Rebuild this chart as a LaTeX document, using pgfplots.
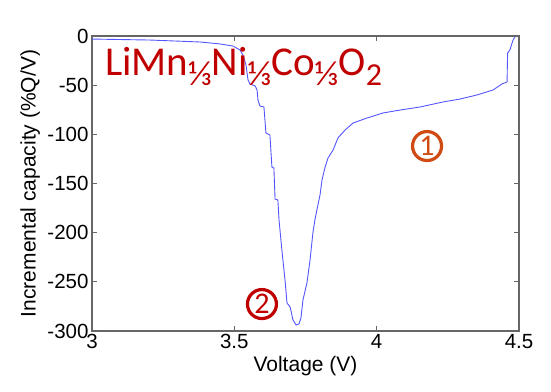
\documentclass[border=0pt]{standalone}
\usepackage{pgfplots}
\pgfplotsset{compat=1.18}
\usepackage{fontspec}
\setmainfont{Liberation Sans}
\newfontfamily\calib{Carlito}
\definecolor{curveblue}{RGB}{85,85,255}
\definecolor{titlered}{RGB}{192,0,0}
\definecolor{oneorange}{RGB}{208,74,20}
\begin{document}
\begin{tikzpicture}
\begin{axis}[
  scale only axis,
  width=427pt, height=295pt,
  xmin=3, xmax=4.5, ymin=-300, ymax=0,
  xtick={3,3.5,4,4.5},
  ytick={-300,-250,-200,-150,-100,-50,0},
  xticklabels={3,3.5,4,4.5},
  yticklabels={-300,-250,-200,-150,-100,-50,0},
  tick align=inside,
  major tick length=5pt,
  axis line style={black!60, line width=1.1pt},
  every tick/.style={black!60, line width=0.8pt},
  tick label style={font=\fontsize{20.5}{20.5}\selectfont, black},
  label style={font=\fontsize{21}{21}\selectfont, black},
  xlabel={Voltage (V)},
  ylabel={Incremental capacity (\%Q/V)},
  xlabel style={at={(axis description cs:0.5,-0.119)}, anchor=center},
  ylabel style={at={(axis description cs:-0.145,0.5)}, anchor=center},
  clip=true,
]
\addplot[curveblue, line width=0.9pt] coordinates {
(3.000,-3.1) (3.204,-4.1) (3.380,-6.1) (3.450,-8.1) (3.495,-10.2)
(3.520,-14.2) (3.530,-19.3) (3.541,-29.5) (3.548,-44.7) (3.555,-48.8)
(3.573,-50.8) (3.580,-54.9) (3.583,-65.1) (3.590,-71.2) (3.604,-72.2)
(3.611,-98.6) (3.625,-100.7) (3.632,-133.2) (3.639,-134.2) (3.643,-165.8)
(3.653,-166.8) (3.657,-187.1) (3.667,-217.6) (3.678,-248.1) (3.685,-271.5)
(3.696,-275.6) (3.706,-288.8) (3.717,-293.9) (3.727,-292.9) (3.734,-286.8)
(3.741,-268.5) (3.755,-251.2) (3.766,-227.8) (3.776,-200.3) (3.783,-187.1)
(3.790,-177.0) (3.801,-161.7) (3.808,-146.4) (3.818,-134.2) (3.829,-124.1)
(3.847,-115.9) (3.864,-103.7) (3.889,-95.6) (3.917,-88.5) (3.966,-83.4)
(4.022,-78.3) (4.082,-75.3) (4.152,-72.2) (4.233,-67.1) (4.293,-64.1)
(4.352,-60.0) (4.409,-54.9) (4.440,-48.8) (4.458,-46.8) (4.460,-17.3)
(4.468,-14.2) (4.479,-4.1) (4.486,-1.0)
};
\node[anchor=base west, inner sep=0pt, text=titlered, font=\calib\fontsize{41}{41}\selectfont]
  at (axis cs:3.045,-39.7)
  {LiMn\raisebox{-10pt}{\fontsize{35}{35}\selectfont ⅓}Ni\raisebox{-10pt}{\fontsize{35}{35}\selectfont ⅓}Co\raisebox{-10pt}{\fontsize{35}{35}\selectfont ⅓}O\raisebox{-10pt}{\fontsize{32}{32}\selectfont 2}};
\node[circle, draw=oneorange, line width=3.2pt, text=oneorange, minimum size=29pt, inner sep=0pt,
  font=\calib\fontsize{30}{30}\selectfont] at (axis cs:4.177,-111.9) {1};
\node[circle, draw=titlered, line width=3.2pt, text=titlered, minimum size=29pt, inner sep=0pt,
  font=\calib\fontsize{30}{30}\selectfont] at (axis cs:3.597,-272.6) {2};
\end{axis}
\pgfresetboundingbox
\path[use as bounding box] (current axis.south west) ++(-92pt,-60pt) rectangle ++(551pt,391pt);
\end{tikzpicture}
\end{document}
